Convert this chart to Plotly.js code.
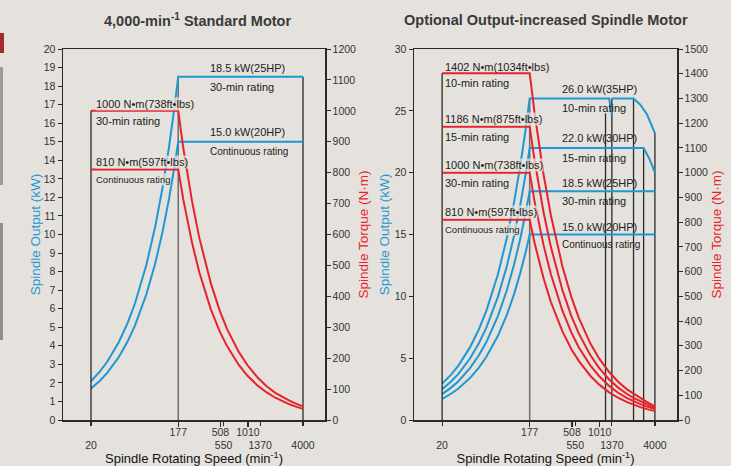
<!DOCTYPE html>
<html>
<head>
<meta charset="utf-8">
<script src="https://cdn.plot.ly/plotly-3.0.1.min.js"></script>
<style>
html,body{margin:0;padding:0;background:#E5E1DC;}
#chart{width:731px;height:466px;}
</style>
</head>
<body>
<div id="chart"></div>
<script>
// ---------- DATA ----------
// Speed points (min^-1)
const speedTorque = [20, 177, 200, 250, 300, 400, 500, 600, 800, 1000, 1280, 1600, 2000, 2350, 2780, 3290, 4000];

// Standard motor – output (kW)
const stdOutSpeed = [20, 25, 30, 40, 50, 60, 80, 100, 120, 140, 160, 177, 4000];
const stdOut30 = [2.09, 2.62, 3.14, 4.19, 5.24, 6.28, 8.38, 10.47, 12.57, 14.66, 16.76, 18.5, 18.5];
const stdOutCont = [1.70, 2.12, 2.54, 3.39, 4.24, 5.09, 6.79, 8.48, 10.18, 11.88, 13.57, 15.0, 15.0];
// Standard motor – torque (N·m)
const stdTq30 = [1000, 1000, 883, 707, 589, 442, 353, 294, 221, 177, 138, 110, 88, 75, 64, 54, 44];
const stdTqCont = [810, 810, 716, 573, 477, 358, 286, 239, 179, 143, 112, 90, 72, 61, 52, 44, 36];

// Optional motor – output (kW)
const opt10Speed = [20, 25, 30, 40, 50, 60, 80, 100, 120, 140, 160, 177, 1280, 1370, 1370, 1370, 2350, 2780, 3290, 4000];
const opt10Out = [2.94, 3.67, 4.40, 5.87, 7.34, 8.81, 11.75, 14.68, 17.62, 20.56, 23.49, 26.0, 26.0, 24.7, null, 26.0, 26.0, 25.5, 24.7, 23.2];
const opt15Speed = [20, 25, 30, 40, 50, 60, 80, 100, 120, 140, 160, 177, 3020, 3500, 4000];
const opt15Out = [2.48, 3.11, 3.73, 4.97, 6.21, 7.45, 9.94, 12.42, 14.90, 17.39, 19.87, 22.0, 22.0, 21.1, 20.0];
const opt30Out = [2.09, 2.62, 3.14, 4.19, 5.24, 6.28, 8.38, 10.47, 12.57, 14.66, 16.76, 18.5, 18.5];
const optContOut = [1.70, 2.12, 2.54, 3.39, 4.24, 5.09, 6.79, 8.48, 10.18, 11.88, 13.57, 15.0, 15.0];
// Optional motor – torque (N·m)
const opt10Tq = [1402, 1402, 1241, 993, 828, 621, 497, 414, 310, 248, 194, 155, 124, 106, 88, 72, 55];
const opt15Tq = [1186, 1186, 1050, 840, 700, 525, 420, 350, 263, 210, 164, 131, 105, 89, 76, 62, 48];
const opt30Tq = [1000, 1000, 883, 707, 589, 442, 353, 294, 221, 177, 138, 110, 88, 75, 64, 54, 44];
const optContTq = [810, 810, 716, 573, 477, 358, 286, 239, 179, 143, 112, 90, 72, 61, 52, 44, 36];

// Guide (vertical) lines: speed and top value
const stdGuideKwSpeed = [4000];      const stdGuideKwTop = [18.5];
const stdGuideTqSpeed = [20];        const stdGuideTqTop = [1000];
const stdGuideGraySpeed = [177];     const stdGuideGrayTop = [18.5];
const optGuideKwSpeed = [1170, 1370, 2350, 3020, 4000];
const optGuideKwTop = [24.8, 26.0, 26.0, 22.0, 23.2];
const optGuideTqSpeed = [20];        const optGuideTqTop = [1402];
const optGuideGraySpeed = [177];     const optGuideGrayTop = [26.0];

// Tick labels (two staggered rows)
const speedTicksRow1 = [177, 508, 1010];
const speedLabelsRow1 = ['177', '508', '1010'];
const speedTicksRow2 = [20, 550, 1370, 4000];
const speedLabelsRow2 = ['20', '550', '1370', '4000'];

// ---------- STYLE ----------
const BLUE = '#1E98D5', RED = '#E8212B', INK = '#2A2A2A', GRAY = '#6E6E6E';
const BG = '#E5E1DC';
const FONT = '"Liberation Sans", Arial, sans-serif';
const W = 731, H = 466;
const px = x => x / W, py = y => 1 - y / H;

function guides(speeds, tops, xa, ya, color, width) {
  const xs = [], ys = [];
  speeds.forEach((s, i) => { xs.push(s, s, null); ys.push(0, tops[i], null); });
  return {x: xs, y: ys, xaxis: xa, yaxis: ya, mode: 'lines', line: {color: color, width: width}, hoverinfo: 'skip', showlegend: false};
}
function line(x, y, xa, ya, color) {
  return {x: x, y: y, xaxis: xa, yaxis: ya, mode: 'lines', line: {color: color, width: 2}, connectgaps: false, showlegend: false};
}
// carrier (draws nothing) so the second-row tick axis gets a subplot
function carrier(xa, ya) {
  return {x: speedTicksRow2, y: speedTicksRow2.map(() => null), xaxis: xa, yaxis: ya, mode: 'lines', hoverinfo: 'skip', showlegend: false};
}

const traces = [
  carrier('x3', 'y'),
  carrier('x4', 'y3'),
  guides(stdGuideKwSpeed, stdGuideKwTop, 'x', 'y', INK, 1.3),
  guides(stdGuideTqSpeed, stdGuideTqTop, 'x', 'y2', INK, 1.3),
  guides(stdGuideGraySpeed, stdGuideGrayTop, 'x', 'y', GRAY, 1.5),
  guides(optGuideKwSpeed, optGuideKwTop, 'x2', 'y3', INK, 1.3),
  guides(optGuideTqSpeed, optGuideTqTop, 'x2', 'y4', INK, 1.3),
  guides(optGuideGraySpeed, optGuideGrayTop, 'x2', 'y3', GRAY, 1.5),

  line(speedTorque, stdTq30, 'x', 'y2', RED),
  line(speedTorque, stdTqCont, 'x', 'y2', RED),
  line(stdOutSpeed, stdOut30, 'x', 'y', BLUE),
  line(stdOutSpeed, stdOutCont, 'x', 'y', BLUE),

  line(speedTorque, opt10Tq, 'x2', 'y4', RED),
  line(speedTorque, opt15Tq, 'x2', 'y4', RED),
  line(speedTorque, opt30Tq, 'x2', 'y4', RED),
  line(speedTorque, optContTq, 'x2', 'y4', RED),
  line(opt10Speed, opt10Out, 'x2', 'y3', BLUE),
  line(opt15Speed, opt15Out, 'x2', 'y3', BLUE),
  line(stdOutSpeed, opt30Out, 'x2', 'y3', BLUE),
  line(stdOutSpeed, optContOut, 'x2', 'y3', BLUE)
];

const tickFont = {family: FONT, size: 10.5, color: '#333'};
const yDom = [py(420), py(49)];
const XRANGE = [0.997, 3.841];
function xAx(dom, anchor) {
  return {
    domain: dom, anchor: anchor, type: 'log', range: XRANGE,
    showgrid: false, zeroline: false, showline: true, mirror: true,
    linecolor: INK, linewidth: 1.5, ticks: 'outside', ticklen: 5, tickcolor: INK, tickwidth: 1.2,
    tickmode: 'array', tickvals: speedTicksRow1, ticktext: speedLabelsRow1, tickfont: tickFont, tickangle: 0,
    ticklabelstandoff: -3
  };
}
function xAxRow2(overlay, anchor) {
  return {
    overlaying: overlay, anchor: anchor, type: 'log', range: XRANGE,
    showgrid: false, zeroline: false, showline: false,
    ticks: 'outside', ticklen: 5, tickcolor: INK, tickwidth: 1.2,
    tickmode: 'array', tickvals: speedTicksRow2, ticktext: speedLabelsRow2, tickfont: tickFont, tickangle: 0,
    ticklabelstandoff: 10,
    title: {text: 'Spindle Rotating Speed (min<sup>-1</sup>)', font: {family: FONT, size: 13, color: '#111'}, standoff: 1}
  };
}
function yAx(anchor, range, dtick, side, overlay, title, tcolor, standoff) {
  const a = {
    domain: yDom, anchor: anchor, range: range, dtick: dtick, side: side,
    showgrid: false, zeroline: false, showline: true, linecolor: INK, linewidth: 1.5,
    ticks: 'outside', ticklen: 4, tickcolor: INK, tickwidth: 1, tickfont: tickFont,
    title: {text: title, font: {family: FONT, size: 13.5, color: tcolor}, standoff: standoff}
  };
  if (overlay) a.overlaying = overlay;
  return a;
}

const ann = [];
function lab(x, y, text, size, bg) {
  ann.push({xref: 'paper', yref: 'paper', x: px(x), y: py(y), xanchor: 'left', yanchor: 'middle',
    text: text, showarrow: false, font: {family: FONT, size: size || 11, color: '#222'},
    bgcolor: bg ? 'rgba(229,225,220,0.75)' : 'rgba(0,0,0,0)', borderpad: 0});
}
// Titles
ann.push({xref: 'paper', yref: 'paper', x: px(197), y: py(20), xanchor: 'center', yanchor: 'middle', showarrow: false,
  text: '<b>4,000-min<sup>-1</sup> Standard Motor</b>', font: {family: FONT, size: 14.5, color: '#3A3A3A'}});
ann.push({xref: 'paper', yref: 'paper', x: px(546), y: py(20), xanchor: 'center', yanchor: 'middle', showarrow: false,
  text: '<b>Optional Output-increased Spindle Motor</b>', font: {family: FONT, size: 14.5, color: '#3A3A3A'}});

// Left chart labels
lab(209, 68, '18.5 kW(25HP)');
lab(209, 87, '30-min rating');
lab(209, 132, '15.0 kW(20HP)');
lab(209, 151, 'Continuous rating', 10);
lab(95, 104, '1000 N•m(738ft•lbs)', 11, true);
lab(95, 121, '30-min rating');
lab(95, 162, '810 N•m(597ft•lbs)', 11, true);
lab(95, 179, 'Continuous rating', 9.5, true);
// Right chart labels
lab(444, 67, '1402 N•m(1034ft•lbs)');
lab(444, 83, '10-min rating');
lab(444, 119, '1186 N•m(875ft•lbs)', 11, true);
lab(444, 137, '15-min rating');
lab(444, 165, '1000 N•m(738ft•lbs)', 11, true);
lab(444, 183, '30-min rating');
lab(444, 212, '810 N•m(597ft•lbs)', 11, true);
lab(444, 229, 'Continuous rating', 9.5, true);
lab(561, 89, '26.0 kW(35HP)');
lab(561, 108, '10-min rating');
lab(561, 138, '22.0 kW(30HP)');
lab(561, 158, '15-min rating');
lab(561, 183, '18.5 kW(25HP)');
lab(561, 201, '30-min rating');
lab(561, 227, '15.0 kW(20HP)');
lab(561, 244, 'Continuous rating', 10);

const shapes = [
  {type: 'rect', xref: 'paper', yref: 'paper', x0: 0, x1: px(4), y0: py(53), y1: py(33), fillcolor: '#A52A2C', line: {width: 0}},
  {type: 'rect', xref: 'paper', yref: 'paper', x0: 0, x1: px(3), y0: py(185), y1: py(67), fillcolor: '#9B9B9B', line: {width: 0}},
  {type: 'rect', xref: 'paper', yref: 'paper', x0: 0, x1: px(3), y0: py(340), y1: py(223), fillcolor: '#8E8E8E', line: {width: 0}}
];

const layout = {
  width: W, height: H, margin: {l: 0, r: 0, t: 0, b: 0},
  paper_bgcolor: BG, plot_bgcolor: 'rgba(0,0,0,0)', showlegend: false,
  xaxis: xAx([px(63), px(325)], 'y'),
  xaxis3: xAxRow2('x', 'y'),
  yaxis: yAx('x', [0, 20], 1, 'left', null, 'Spindle Output (kW)', BLUE, 0),
  yaxis2: yAx('x', [0, 1200], 100, 'right', 'y', 'Spindle Torque (N·m)', RED, 3),
  xaxis2: xAx([px(414), px(677)], 'y3'),
  xaxis4: xAxRow2('x2', 'y3'),
  yaxis3: yAx('x2', [0, 30], 5, 'left', null, 'Spindle Output (kW)', BLUE, 2),
  yaxis4: yAx('x2', [0, 1500], 100, 'right', 'y3', 'Spindle Torque (N·m)', RED, 4),
  annotations: ann, shapes: shapes
};

Plotly.newPlot('chart', traces, layout, {staticPlot: true, displayModeBar: false});
</script>
</body>
</html>
